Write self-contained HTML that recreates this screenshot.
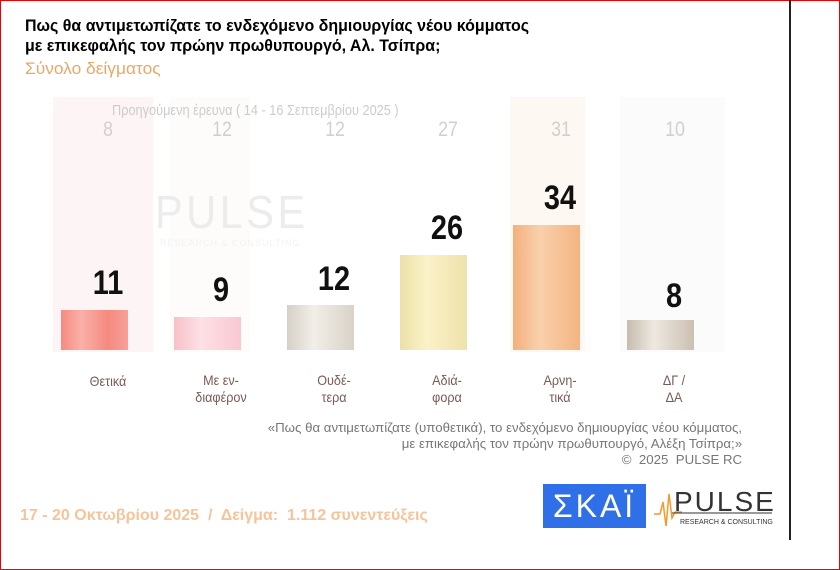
<!DOCTYPE html>
<html><head><meta charset="utf-8"><style>
body{margin:0;width:840px;height:570px;overflow:hidden;background:#fff;font-family:"Liberation Sans",sans-serif;position:relative}
.frame{position:absolute;left:0;top:0;width:838px;height:568px;border:1px solid #e00}
.t{position:absolute;white-space:nowrap;transform-origin:0 0}
.bar{position:absolute;bottom:220px;width:67px}
.ghost{position:absolute;top:97px;height:255px;width:100px}
.v{position:absolute;width:100px;text-align:center;font-weight:bold;font-size:34px;color:#111;transform:scaleX(.85)}
.p{position:absolute;top:118px;width:100px;text-align:center;font-size:21px;color:#d0d0d0;transform:scaleX(.85)}
.c{position:absolute;top:372px;width:100px;text-align:center;font-size:14px;color:#7a5a55;line-height:17px;transform:scaleX(.9)}
</style></head><body>
<div class="frame"></div>
<div style="position:absolute;left:789px;top:0;width:2px;height:540px;background:#222"></div>
<div class="t" style="left:25px;top:16px;font-size:17px;font-weight:bold;line-height:20px;transform:scaleX(.94)">Πως θα αντιμετωπίζατε το ενδεχόμενο δημιουργίας νέου κόμματος<br>με επικεφαλής τον πρώην πρωθυπουργό, Αλ. Τσίπρα;</div>
<div class="t" style="left:25px;top:59px;font-size:17px;color:#e8a868;transform:scaleX(1.02)">Σύνολο δείγματος</div>

<div class="ghost" style="left:53px;background:#fdf5f5"></div>
<div class="ghost" style="left:170px;width:80px;background:#fefbfb"></div>
<div class="ghost" style="left:510px;width:75px;background:#fef8f3"></div>
<div class="ghost" style="left:620px;width:105px;background:#fcfbfb"></div>
<div class="t" style="left:112px;top:102px;font-size:15px;color:#ccc;transform:scaleX(.85)">Προηγούμενη έρευνα ( 14 - 16 Σεπτεμβρίου 2025 )</div>
<div class="t" style="left:155px;top:185px;font-size:46px;color:#ececec;letter-spacing:4px;transform:scaleX(.9)">PULSE</div>
<div class="t" style="left:160px;top:238px;font-size:9px;color:#f2f2f2;letter-spacing:1px">RESEARCH &amp; CONSULTING</div>

<div class="p" style="left:58px">8</div><div class="p" style="left:172px">12</div><div class="p" style="left:285px">12</div><div class="p" style="left:398px">27</div><div class="p" style="left:511px">31</div><div class="p" style="left:625px">10</div>

<div class="bar" style="left:61px;height:40px;background:linear-gradient(90deg,#f58a80,#f9b0a8 30%,#f58a80 70%,#f7a098)"></div>
<div class="bar" style="left:174px;height:33px;background:linear-gradient(90deg,#f8c0c8,#fde0e6 40%,#f9c8d0)"></div>
<div class="bar" style="left:287px;height:45px;background:linear-gradient(90deg,#d6d0c6,#f2eee8 40%,#d8d2c8)"></div>
<div class="bar" style="left:400px;height:95px;background:linear-gradient(90deg,#ece0a8,#faf2c8 40%,#eee2ac)"></div>
<div class="bar" style="left:513px;height:125px;background:linear-gradient(90deg,#f2b07c,#fad0ac 40%,#f3b482)"></div>
<div class="bar" style="left:627px;height:30px;background:linear-gradient(90deg,#c8bcae,#ede8e0 40%,#ccc0b2)"></div>

<div class="v" style="left:58px;top:264px">11</div>
<div class="v" style="left:171px;top:271px">9</div>
<div class="v" style="left:284px;top:260px">12</div>
<div class="v" style="left:397px;top:209px">26</div>
<div class="v" style="left:510px;top:179px">34</div>
<div class="v" style="left:624px;top:277px">8</div>

<div class="c" style="left:58px;top:373px">Θετικά</div>
<div class="c" style="left:171px">Με εν-<br>διαφέρον</div>
<div class="c" style="left:284px">Ουδέ-<br>τερα</div>
<div class="c" style="left:397px">Αδιά-<br>φορα</div>
<div class="c" style="left:510px">Αρνη-<br>τικά</div>
<div class="c" style="left:624px">ΔΓ /<br>ΔΑ</div>

<div style="position:absolute;right:98px;top:420px;text-align:right;font-size:13px;color:#777;line-height:16px;white-space:nowrap;transform:scaleX(1.02);transform-origin:100% 0">«Πως θα αντιμετωπίζατε (υποθετικά), το ενδεχόμενο δημιουργίας νέου κόμματος,<br>με επικεφαλής τον πρώην πρωθυπουργό, Αλέξη Τσίπρα;»<br>©&nbsp; 2025&nbsp; PULSE RC</div>

<div class="t" style="left:20px;top:507px;font-size:16px;font-weight:bold;color:#f6c49a;transform:scaleX(1.0)">17 - 20 Οκτωβρίου 2025&nbsp; /&nbsp; Δείγμα:&nbsp; 1.112 συνεντεύξεις</div>

<div style="position:absolute;left:543px;top:484px;width:103px;height:44px;background:#2f6fe8;color:#fff;font-size:32px;line-height:44px;text-align:center;letter-spacing:3px">ΣΚΑΪ</div>
<svg style="position:absolute;left:652px;top:484px" width="125" height="46">
<polyline points="2,30 8,30 11,18 14,42 17,10 20,34 23,28 30,28" fill="none" stroke="#f39a2a" stroke-width="1.5"/>
<text x="22" y="27" font-family="Liberation Sans" font-size="28" fill="#333" letter-spacing="2">PULSE</text>
<line x1="20" y1="29" x2="120" y2="29" stroke="#333" stroke-width="1"/>
<text x="28" y="40" font-family="Liberation Sans" font-size="7" fill="#333">RESEARCH &amp; CONSULTING</text>
</svg>
</body></html>
